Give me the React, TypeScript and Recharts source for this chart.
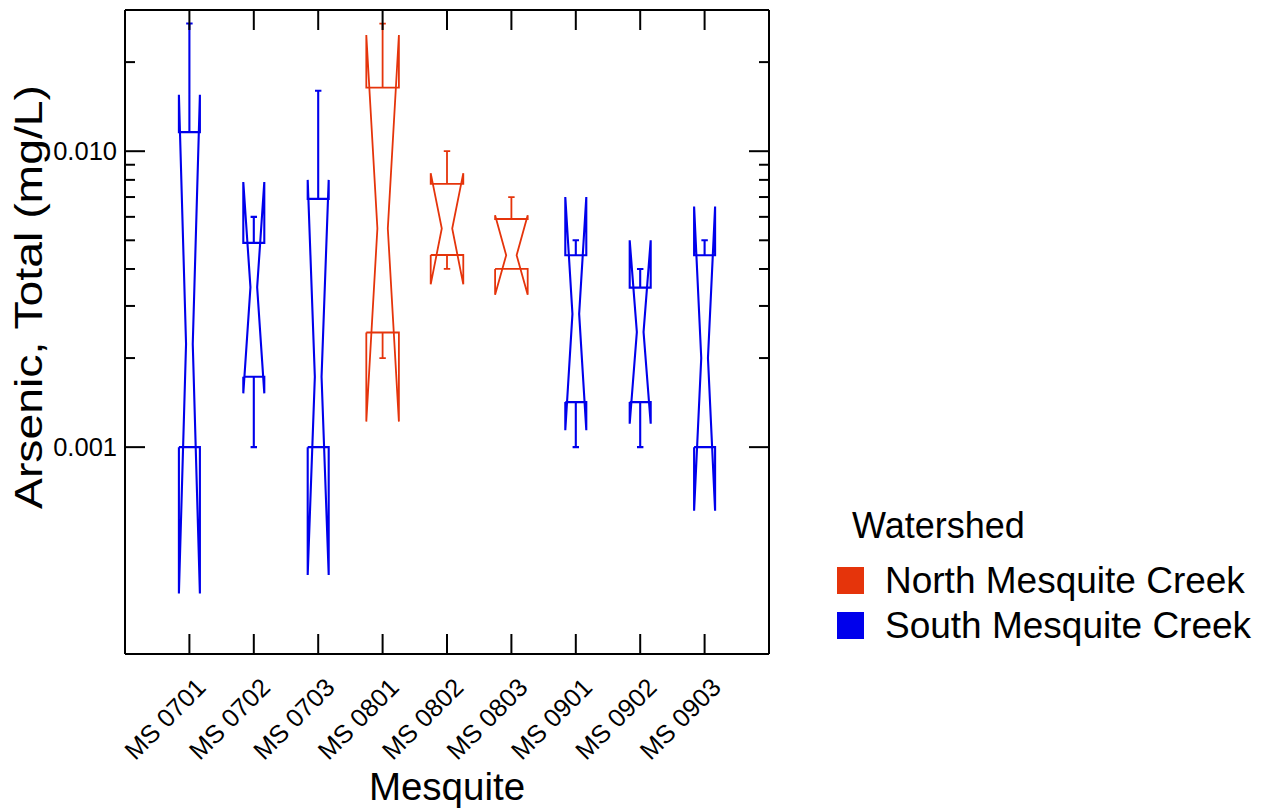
import React from 'react';
import { ComposedChart, Line, XAxis, YAxis, Legend } from 'recharts';

// Station names along the x axis, in plotting order
const sites = ['MS 0701', 'MS 0702', 'MS 0703', 'MS 0801', 'MS 0802', 'MS 0803', 'MS 0901', 'MS 0902', 'MS 0903'];
const siteWatershed = ['South', 'South', 'South', 'North', 'North', 'North', 'South', 'South', 'South'];

// Box statistics for total arsenic (mg/L)
const whiskerLow = [0.001, 0.001, 0.001, 0.002, 0.004, 0.004, 0.001, 0.001, 0.001];
const q1 = [0.001, 0.00173, 0.001, 0.00244, 0.00446, 0.004, 0.00142, 0.00142, 0.001];
const median = [0.00223, 0.00347, 0.00173, 0.00548, 0.00548, 0.00445, 0.00282, 0.00245, 0.002];
const q3 = [0.0116, 0.0049, 0.0069, 0.0164, 0.00776, 0.0059, 0.00445, 0.00346, 0.00445];
const whiskerHigh = [0.027, 0.006, 0.016, 0.027, 0.01, 0.007, 0.005, 0.004, 0.005];
const notchLow = [0.00032, 0.00152, 0.00037, 0.00122, 0.00355, 0.00327, 0.00114, 0.0012, 0.00061];
const notchHigh = [0.0155, 0.00787, 0.008, 0.0247, 0.00843, 0.00608, 0.007, 0.005, 0.0065];

const watershedKeys = ['North', 'South'];
const watershedNames = ['North Mesquite Creek', 'South Mesquite Creek'];

const majorTicks = [0.001, 0.01];
const minorTicks = [0.002, 0.003, 0.004, 0.005, 0.006, 0.007, 0.008, 0.009, 0.02];

const COLORS: Record<string, string> = { North: '#E5340B', South: '#0000EC' };
const HALF_WIDTH: Record<string, number> = { North: 0.253, South: 0.163 };
const NOTCH = 0.32;
const CAP = 0.05;
const FONT = '"Liberation Sans", Arial, Helvetica, sans-serif';

const positions = sites.map((_, i) => i + 1);

type Pt = { x: number; y: number | null };

function boxOutline(i: number): Pt[] {
  const cx = i + 1;
  const hw = HALF_WIDTH[siteWatershed[i]];
  const nw = hw * NOTCH;
  const pts: Pt[] = [
    { x: cx - hw, y: q1[i] },
    { x: cx - hw, y: notchLow[i] },
    { x: cx - nw, y: median[i] },
    { x: cx - hw, y: notchHigh[i] },
    { x: cx - hw, y: q3[i] },
    { x: cx + hw, y: q3[i] },
    { x: cx + hw, y: notchHigh[i] },
    { x: cx + nw, y: median[i] },
    { x: cx + hw, y: notchLow[i] },
    { x: cx + hw, y: q1[i] },
    { x: cx - hw, y: q1[i] },
    { x: cx, y: null },
  ];
  if (whiskerHigh[i] > q3[i]) {
    pts.push(
      { x: cx, y: q3[i] },
      { x: cx, y: whiskerHigh[i] },
      { x: cx, y: null },
      { x: cx - CAP, y: whiskerHigh[i] },
      { x: cx + CAP, y: whiskerHigh[i] },
      { x: cx, y: null },
    );
  }
  if (whiskerLow[i] < q1[i]) {
    pts.push(
      { x: cx, y: q1[i] },
      { x: cx, y: whiskerLow[i] },
      { x: cx, y: null },
      { x: cx - CAP, y: whiskerLow[i] },
      { x: cx + CAP, y: whiskerLow[i] },
    );
  }
  return pts;
}

const BottomTick = ({ x, y, payload }: any) => {
  const ax = x + 18;
  const ay = y + 35;
  return (
    <g>
      <line x1={x} y1={y} x2={x} y2={y - 20} stroke="#000" strokeWidth={2} />
      <text x={ax} y={ay} transform={`rotate(-45 ${ax} ${ay})`} textAnchor="end" fontSize={25.5} fontFamily={FONT} fill="#000">
        {sites[payload.value - 1]}
      </text>
    </g>
  );
};

const TopTick = ({ x, y }: any) => <line x1={x} y1={y} x2={x} y2={y + 20} stroke="#000" strokeWidth={2} />;

const LeftTick = ({ x, y, payload }: any) => {
  const major = majorTicks.includes(payload.value);
  return (
    <g>
      <line x1={x} y1={y} x2={x + (major ? 20 : 10)} y2={y} stroke="#000" strokeWidth={2} />
      {major && (
        <text x={x - 8} y={y} dy="0.35em" textAnchor="end" fontSize={25.5} fontFamily={FONT} fill="#000">
          {payload.value.toFixed(3)}
        </text>
      )}
    </g>
  );
};

const RightTick = ({ x, y, payload }: any) => {
  const major = majorTicks.includes(payload.value);
  return <line x1={x} y1={y} x2={x - (major ? 20 : 10)} y2={y} stroke="#000" strokeWidth={2} />;
};

const XTitle = ({ viewBox }: any) => (
  <text x={viewBox.x + viewBox.width / 2} y={viewBox.y + 146} textAnchor="middle" fontSize={38.5} fontFamily={FONT} fill="#000">
    Mesquite
  </text>
);

const YTitle = ({ viewBox }: any) => {
  const tx = 42;
  const ty = viewBox.y + viewBox.height / 2 - 35;
  return (
    <text
      x={tx}
      y={ty}
      transform={`rotate(-90 ${tx} ${ty})`}
      textAnchor="middle"
      fontSize={38.5}
      fontFamily={FONT}
      fill="#000"
      textLength={424}
      lengthAdjust="spacingAndGlyphs"
    >
      Arsenic, Total (mg/L)
    </text>
  );
};

const WatershedLegend = () => (
  <svg width={440} height={150} style={{ display: 'block' }}>
    <text x={32} y={38} fontSize={36} fontFamily={FONT} fill="#000">Watershed</text>
    {watershedNames.map((name, k) => (
      <g key={name}>
        <rect x={17} y={67 + k * 45} width={27} height={27} fill={COLORS[watershedKeys[k]]} />
        <text x={65} y={93 + k * 45} fontSize={37} fontFamily={FONT} fill="#000">{name}</text>
      </g>
    ))}
  </svg>
);

export default function App() {
  const yTicks = [...majorTicks, ...minorTicks];
  return (
    <div style={{ position: 'absolute', left: 0, top: 0, background: '#fff' }}>
      <ComposedChart width={1270} height={812} margin={{ top: 0, right: 0, bottom: 0, left: 0 }}>
        <XAxis
          xAxisId="bottom"
          type="number"
          dataKey="x"
          domain={[0, 10]}
          ticks={positions}
          allowDataOverflow
          height={158}
          tickSize={0}
          tickMargin={0}
          tickLine={false}
          tick={<BottomTick />}
          axisLine={{ stroke: '#000', strokeWidth: 2 }}
          label={<XTitle />}
          interval={0}
        />
        <XAxis
          xAxisId="top"
          orientation="top"
          type="number"
          dataKey="x"
          domain={[0, 10]}
          ticks={positions}
          allowDataOverflow
          height={10}
          tickSize={0}
          tickMargin={0}
          tickLine={false}
          tick={<TopTick />}
          axisLine={{ stroke: '#000', strokeWidth: 2 }}
          interval={0}
        />
        <YAxis
          yAxisId="left"
          type="number"
          scale="log"
          domain={[0.0002, 0.03]}
          ticks={yTicks}
          allowDataOverflow
          width={125}
          tickSize={0}
          tickMargin={0}
          tickLine={false}
          tick={<LeftTick />}
          axisLine={{ stroke: '#000', strokeWidth: 2 }}
          label={<YTitle />}
          interval={0}
        />
        <YAxis
          yAxisId="right"
          orientation="right"
          type="number"
          scale="log"
          domain={[0.0002, 0.03]}
          ticks={yTicks}
          allowDataOverflow
          width={501}
          tickSize={0}
          tickMargin={0}
          tickLine={false}
          tick={<RightTick />}
          axisLine={{ stroke: '#000', strokeWidth: 2 }}
          interval={0}
        />
        {sites.map((site, i) => (
          <Line
            key={site}
            name={site}
            data={boxOutline(i)}
            dataKey="y"
            xAxisId="bottom"
            yAxisId="left"
            type="linear"
            stroke={COLORS[siteWatershed[i]]}
            strokeWidth={siteWatershed[i] === 'North' ? 1.8 : 2.1}
            dot={false}
            activeDot={false}
            connectNulls={false}
            isAnimationActive={false}
          />
        ))}
        <Legend
          layout="vertical"
          align="center"
          verticalAlign="middle"
          wrapperStyle={{ left: 820, top: 500, width: 440, height: 150 }}
          content={<WatershedLegend />}
        />
      </ComposedChart>
    </div>
  );
}
